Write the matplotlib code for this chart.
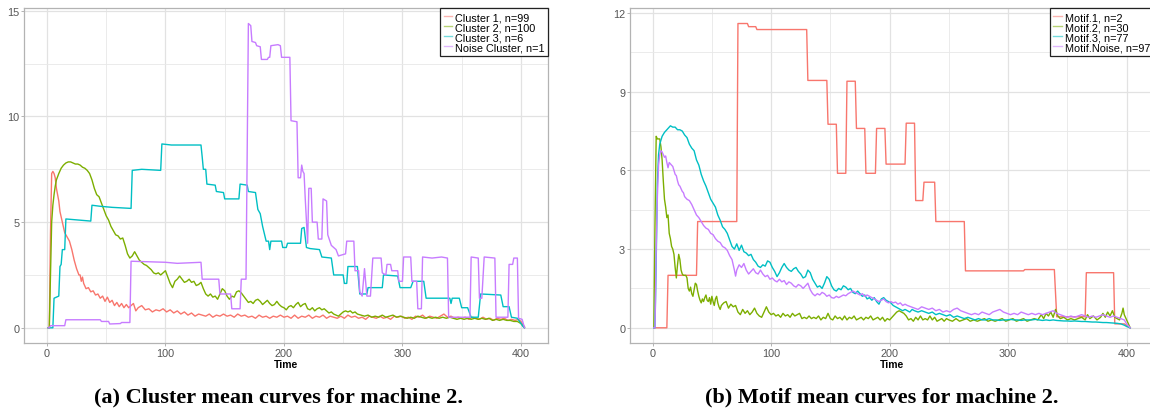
import matplotlib.pyplot as plt
import numpy as np

# colours (ggplot default hue palette)
colors = ['#F8766D', '#7CAE00', '#00BFC4', '#C77CFF']

# ---------- panel (a): cluster mean curves ----------
cluster_labels = ['Cluster 1, n=99', 'Cluster 2, n=100', 'Cluster 3, n=6', 'Noise Cluster, n=1']

cluster1 = [(1, 0), (2, 0), (3, 4.5), (4, 7.3), (5, 7.4), (6, 7.3), (7, 7.1), (8, 6.6), (10, 6.0), (11, 5.5),
            (13, 5.0), (15, 4.5), (17, 4.3), (19, 4.1), (21, 3.7), (23, 3.2), (25, 2.8), (27, 2.5), (28, 2.5),
            (29, 2.2), (30, 2.4), (31, 2.1), (33, 1.85), (35, 1.9), (37, 1.7), (39, 1.75), (41, 1.55), (43, 1.6),
            (45, 1.4), (47, 1.5), (49, 1.25), (51, 1.45), (53, 1.2), (55, 1.3), (57, 1.05), (59, 1.2), (61, 1.0),
            (63, 1.15), (65, 0.95), (67, 1.1), (69, 0.95), (71, 1.05), (73, 1.15), (75, 0.8), (77, 0.95),
            (80, 1.05), (83, 0.85), (86, 0.9), (89, 0.75), (92, 0.85), (95, 0.8), (98, 0.9), (101, 0.75),
            (104, 0.85), (107, 0.7), (110, 0.8), (113, 0.65), (116, 0.75), (119, 0.6), (122, 0.7), (125, 0.55),
            (128, 0.65), (131, 0.6), (134, 0.55), (137, 0.65), (140, 0.5), (143, 0.6), (146, 0.55), (149, 0.65),
            (152, 0.55), (155, 0.6), (158, 0.5), (161, 0.65), (164, 0.55), (167, 0.6), (170, 0.5), (173, 0.55),
            (176, 0.45), (179, 0.6), (182, 0.5), (185, 0.55), (188, 0.45), (191, 0.55), (194, 0.5), (197, 0.6),
            (200, 0.5), (203, 0.55), (206, 0.45), (209, 0.6), (212, 0.45), (215, 0.55), (218, 0.5), (221, 0.6),
            (224, 0.45), (227, 0.55), (230, 0.5), (233, 0.6), (236, 0.45), (239, 0.55), (242, 0.5), (245, 0.45),
            (248, 0.55), (251, 0.45), (254, 0.6), (257, 0.5), (260, 0.55), (263, 0.45), (266, 0.5), (269, 0.4),
            (272, 0.55), (275, 0.5), (278, 0.45), (281, 0.55), (284, 0.45), (287, 0.5), (290, 0.4), (293, 0.55),
            (296, 0.5), (299, 0.55), (302, 0.45), (305, 0.5), (308, 0.4), (311, 0.55), (314, 0.5), (317, 0.6),
            (320, 0.45), (323, 0.55), (326, 0.5), (329, 0.45), (332, 0.55), (335, 0.65), (338, 0.5), (341, 0.55),
            (344, 0.45), (347, 0.5), (350, 0.45), (353, 0.5), (356, 0.4), (359, 0.5), (362, 0.45), (365, 0.4),
            (368, 0.5), (371, 0.4), (374, 0.45), (377, 0.35), (380, 0.45), (383, 0.4), (386, 0.45), (389, 0.35),
            (392, 0.4), (395, 0.35), (398, 0.4), (400, 0.3), (403, 0.05)]

cluster2 = [(1, 0), (2, 0), (3, 2.5), (4, 5.0), (5, 5.8), (6, 6.3), (7, 6.7), (8, 7.0), (10, 7.3), (12, 7.55),
            (14, 7.7), (16, 7.8), (18, 7.85), (20, 7.85), (22, 7.8), (24, 7.75), (26, 7.75), (28, 7.7), (30, 7.6),
            (32, 7.55), (34, 7.45), (36, 7.3), (38, 7.0), (40, 6.6), (42, 6.3), (44, 6.2), (46, 5.9), (48, 5.6),
            (50, 5.3), (52, 5.1), (54, 4.8), (56, 4.6), (58, 4.4), (60, 4.35), (62, 4.2), (64, 4.25), (66, 3.9),
            (68, 3.5), (70, 3.3), (72, 3.4), (74, 3.6), (76, 3.4), (78, 3.2), (80, 3.1), (82, 3.0), (84, 2.95),
            (86, 2.85), (88, 2.75), (90, 2.6), (92, 2.55), (94, 2.6), (96, 2.5), (98, 2.6), (100, 2.7), (102, 2.4),
            (104, 2.1), (106, 1.9), (108, 2.2), (110, 2.3), (112, 2.45), (114, 2.3), (116, 2.15), (118, 2.2),
            (120, 2.3), (122, 2.15), (124, 2.2), (126, 2.0), (128, 2.05), (130, 2.15), (132, 1.85), (134, 1.6),
            (136, 1.5), (138, 1.6), (140, 1.45), (142, 1.5), (144, 1.35), (146, 1.6), (148, 1.85), (150, 1.75),
            (152, 1.5), (154, 1.35), (156, 1.5), (158, 1.45), (160, 1.7), (162, 1.75), (164, 1.65), (166, 1.5),
            (168, 1.35), (170, 1.2), (172, 1.25), (174, 1.15), (176, 1.3), (178, 1.35), (180, 1.25), (182, 1.1),
            (184, 1.2), (186, 1.3), (188, 1.15), (190, 1.05), (192, 1.1), (194, 1.25), (196, 1.1), (198, 1.0),
            (200, 0.95), (202, 0.85), (204, 1.0), (206, 1.05), (208, 0.95), (210, 1.1), (212, 1.2), (214, 1.0),
            (216, 1.1), (218, 1.15), (220, 0.9), (222, 0.85), (224, 0.95), (226, 0.8), (228, 0.9), (230, 0.95),
            (232, 0.85), (234, 0.9), (236, 0.8), (238, 0.7), (240, 0.75), (242, 0.65), (244, 0.6), (246, 0.55),
            (248, 0.65), (250, 0.75), (252, 0.8), (254, 0.75), (256, 0.8), (258, 0.7), (260, 0.75), (262, 0.65),
            (265, 0.6), (268, 0.55), (271, 0.6), (274, 0.5), (277, 0.55), (280, 0.5), (283, 0.6), (286, 0.5),
            (289, 0.55), (292, 0.6), (295, 0.5), (298, 0.55), (301, 0.5), (304, 0.45), (307, 0.5), (310, 0.45),
            (313, 0.55), (316, 0.5), (319, 0.45), (322, 0.5), (325, 0.45), (328, 0.5), (331, 0.45), (334, 0.5),
            (337, 0.45), (340, 0.5), (343, 0.45), (346, 0.4), (349, 0.45), (352, 0.4), (355, 0.45), (358, 0.4),
            (361, 0.45), (364, 0.4), (367, 0.45), (370, 0.4), (373, 0.45), (376, 0.35), (379, 0.4), (382, 0.35),
            (385, 0.4), (388, 0.35), (391, 0.35), (394, 0.3), (397, 0.3), (400, 0.2), (403, 0.0)]

cluster3 = [(1, 0), (5, 0), (6, 1.4), (10, 1.5), (11, 2.9), (12, 3.0), (13, 3.7), (15, 3.7), (16, 5.15),
            (37, 5.05), (38, 5.8), (45, 5.75), (55, 5.7), (71, 5.65), (72, 7.45), (80, 7.5), (96, 7.45),
            (97, 8.7), (105, 8.65), (130, 8.65), (131, 8.1), (132, 7.5), (134, 7.5), (135, 6.8), (142, 6.75),
            (143, 6.45), (149, 6.4), (150, 6.1), (162, 6.1), (163, 6.8), (169, 6.75), (170, 6.45), (176, 6.4),
            (178, 5.6), (180, 5.4), (182, 4.8), (185, 4.1), (187, 4.1), (188, 3.7), (189, 4.1), (198, 4.1),
            (199, 3.8), (202, 3.8), (203, 4.0), (214, 4.0), (215, 4.7), (217, 4.75), (219, 3.8), (222, 3.75),
            (230, 3.7), (232, 3.35), (240, 3.3), (242, 2.5), (250, 2.5), (251, 2.1), (253, 2.1), (254, 2.9),
            (262, 2.9), (264, 1.6), (270, 1.6), (271, 1.9), (283, 1.9), (284, 2.5), (296, 2.45), (298, 1.9),
            (307, 1.9), (309, 2.2), (318, 2.2), (320, 1.4), (340, 1.4), (341, 1.15), (342, 1.4), (348, 1.4),
            (350, 0.95), (355, 0.95), (358, 0.5), (364, 0.5), (366, 1.6), (383, 1.55), (385, 1.0), (390, 1.0),
            (392, 0.5), (397, 0.45), (402, 0.05), (403, 0)]

noise_cluster = [(1, 0), (2, 0), (3, 0.1), (15, 0.1), (16, 0.38), (45, 0.38), (46, 0.3), (52, 0.3), (53, 0.18),
                 (62, 0.2), (63, 0.25), (70, 0.25), (71, 3.15), (100, 3.1), (110, 3.05), (130, 3.1), (131, 2.3),
                 (145, 2.3), (146, 1.6), (155, 1.6), (156, 0.9), (163, 0.9), (164, 2.3), (168, 2.3), (170, 14.4),
                 (172, 14.3), (173, 13.55), (176, 13.5), (177, 13.35), (180, 13.3), (181, 12.7), (186, 12.7),
                 (187, 12.8), (188, 12.8), (189, 13.35), (195, 13.4), (197, 13.35), (198, 12.8), (205, 12.8),
                 (206, 9.8), (211, 9.75), (212, 7.1), (214, 7.1), (215, 7.7), (216, 7.4), (217, 7.3), (218, 6.1),
                 (220, 4.0), (221, 6.6), (223, 6.6), (224, 5.0), (228, 5.0), (229, 4.2), (232, 4.2), (233, 6.1),
                 (236, 6.0), (237, 4.4), (240, 3.9), (244, 3.7), (246, 3.4), (252, 3.5), (253, 4.1), (259, 4.1),
                 (260, 2.7), (263, 2.7), (264, 1.7), (266, 1.5), (268, 2.8), (270, 1.5), (273, 1.5), (275, 3.3),
                 (282, 3.3), (283, 2.6), (286, 2.5), (287, 3.0), (290, 3.0), (291, 2.7), (296, 2.7), (297, 2.2),
                 (300, 2.2), (301, 3.35), (307, 3.35), (308, 2.2), (312, 2.2), (313, 0.9), (316, 0.9), (317, 3.35),
                 (325, 3.3), (333, 3.35), (338, 3.3), (339, 0.5), (357, 0.5), (358, 3.35), (364, 3.3), (365, 1.4),
                 (367, 1.4), (369, 3.35), (378, 3.3), (379, 0.5), (389, 0.5), (390, 3.0), (393, 3.0), (394, 3.3),
                 (397, 3.3), (398, 0.45), (401, 0.4), (403, 0.0)]

# ---------- panel (b): motif mean curves ----------
motif_labels = ['Motif.1, n=2', 'Motif.2, n=30', 'Motif.3, n=77', 'Motif.Noise, n=97']

motif1 = [(1, 0), (12, 0), (13, 2.0), (37, 2.0), (38, 4.05), (71, 4.05), (72, 11.6), (80, 11.6), (81, 11.48),
          (87, 11.48), (88, 11.37), (130, 11.37), (131, 9.43), (147, 9.43), (148, 7.76), (155, 7.76),
          (156, 5.89), (163, 5.89), (164, 9.4), (171, 9.4), (172, 7.6), (179, 7.6), (180, 5.89), (188, 5.89),
          (189, 7.6), (196, 7.6), (197, 6.24), (213, 6.24), (214, 7.8), (221, 7.8), (222, 4.85), (228, 4.85),
          (229, 5.55), (238, 5.55), (239, 4.05), (263, 4.05), (264, 2.17), (313, 2.17), (314, 2.22),
          (339, 2.22), (341, 0.42), (365, 0.42), (366, 2.1), (389, 2.1), (390, 0.15), (398, 0.15), (403, 0)]

motif2 = [(1, 0), (2, 4.0), (3, 7.3), (4, 7.2), (6, 7.2), (7, 6.9), (8, 6.4), (9, 5.6), (10, 4.9), (11, 4.6),
          (12, 4.2), (13, 4.3), (14, 3.6), (15, 3.4), (16, 3.1), (17, 3.0), (18, 2.8), (19, 2.3), (20, 1.9),
          (21, 2.4), (22, 2.8), (23, 2.6), (24, 2.2), (25, 2.05), (26, 2.0), (28, 2.0), (29, 1.9), (30, 1.5),
          (31, 1.4), (32, 1.55), (33, 1.3), (34, 1.2), (35, 1.45), (36, 1.7), (37, 1.65), (38, 1.4), (39, 1.2),
          (40, 1.05), (41, 0.95), (42, 1.1), (43, 1.0), (44, 1.15), (45, 1.25), (46, 1.05), (47, 1.0),
          (48, 1.15), (49, 0.9), (50, 1.2), (51, 1.0), (52, 0.85), (53, 1.1), (54, 1.2), (55, 0.95), (56, 0.8),
          (57, 0.7), (58, 0.85), (60, 0.95), (62, 1.0), (64, 0.75), (66, 0.9), (68, 0.8), (70, 0.85), (72, 0.6),
          (74, 0.5), (76, 0.7), (78, 0.55), (80, 0.65), (82, 0.5), (84, 0.6), (86, 0.75), (88, 0.55), (90, 0.45),
          (92, 0.4), (94, 0.6), (96, 0.8), (98, 0.6), (100, 0.5), (102, 0.55), (104, 0.45), (106, 0.5),
          (108, 0.4), (110, 0.55), (112, 0.45), (114, 0.5), (116, 0.4), (118, 0.55), (120, 0.45), (122, 0.5),
          (124, 0.55), (126, 0.35), (128, 0.4), (130, 0.35), (132, 0.45), (134, 0.35), (136, 0.4), (138, 0.35),
          (140, 0.45), (142, 0.3), (144, 0.4), (146, 0.35), (148, 0.55), (150, 0.35), (152, 0.3), (154, 0.45),
          (156, 0.35), (158, 0.4), (160, 0.3), (162, 0.45), (164, 0.3), (166, 0.4), (168, 0.35), (170, 0.45),
          (172, 0.3), (174, 0.35), (176, 0.4), (178, 0.3), (180, 0.4), (182, 0.35), (184, 0.45), (186, 0.3),
          (188, 0.35), (190, 0.4), (192, 0.3), (194, 0.4), (196, 0.25), (198, 0.35), (200, 0.3), (202, 0.4),
          (204, 0.5), (206, 0.6), (208, 0.65), (210, 0.6), (212, 0.55), (214, 0.45), (216, 0.3), (218, 0.35),
          (220, 0.25), (222, 0.4), (224, 0.3), (226, 0.45), (228, 0.3), (230, 0.35), (232, 0.3), (234, 0.45),
          (236, 0.3), (238, 0.4), (240, 0.25), (242, 0.3), (244, 0.35), (246, 0.25), (248, 0.35), (250, 0.3),
          (253, 0.25), (256, 0.35), (259, 0.25), (262, 0.3), (265, 0.35), (268, 0.25), (271, 0.3), (274, 0.25),
          (277, 0.3), (280, 0.35), (283, 0.25), (286, 0.3), (289, 0.25), (292, 0.3), (295, 0.35), (298, 0.25),
          (301, 0.3), (304, 0.35), (307, 0.25), (310, 0.3), (313, 0.35), (316, 0.25), (319, 0.3), (322, 0.35),
          (325, 0.3), (328, 0.5), (330, 0.35), (332, 0.55), (334, 0.45), (336, 0.6), (338, 0.4), (340, 0.7),
          (342, 0.45), (344, 0.35), (347, 0.4), (350, 0.3), (353, 0.35), (356, 0.3), (359, 0.35), (362, 0.4),
          (365, 0.3), (367, 0.5), (369, 0.35), (372, 0.45), (375, 0.3), (378, 0.4), (380, 0.55), (382, 0.4),
          (384, 0.6), (386, 0.45), (388, 0.65), (390, 0.4), (392, 0.35), (394, 0.3), (396, 0.55), (397, 0.75),
          (398, 0.5), (400, 0.3), (403, 0.0)]

motif3 = [(1, 0), (2, 0), (3, 2.5), (4, 5.5), (5, 6.6), (6, 7.0), (8, 7.3), (10, 7.45), (12, 7.55), (14, 7.65),
          (15, 7.7), (17, 7.65), (19, 7.65), (21, 7.55), (23, 7.55), (25, 7.5), (27, 7.35), (29, 7.25), (31, 7.0),
          (33, 6.85), (35, 6.75), (37, 6.4), (39, 6.2), (41, 5.85), (43, 5.6), (45, 5.4), (47, 5.15), (49, 4.9),
          (51, 4.75), (53, 4.6), (55, 4.3), (57, 4.1), (59, 3.85), (61, 3.75), (63, 3.6), (65, 3.35), (67, 3.1),
          (69, 3.0), (71, 3.2), (73, 2.95), (75, 3.15), (77, 2.9), (79, 2.85), (81, 2.75), (83, 2.8), (85, 2.6),
          (87, 2.5), (89, 2.35), (91, 2.3), (93, 2.4), (95, 2.35), (97, 2.55), (99, 2.5), (101, 2.3), (103, 2.15),
          (105, 1.95), (107, 2.1), (109, 2.3), (111, 2.45), (113, 2.3), (115, 2.2), (117, 2.15), (119, 2.25),
          (121, 2.3), (123, 2.15), (125, 2.05), (127, 1.9), (129, 1.95), (131, 2.2), (133, 2.1), (135, 1.85),
          (137, 1.7), (139, 1.55), (141, 1.6), (143, 1.5), (145, 1.7), (147, 1.95), (149, 1.85), (151, 1.6),
          (153, 1.45), (155, 1.4), (157, 1.5), (159, 1.45), (161, 1.6), (163, 1.55), (165, 1.45), (167, 1.5),
          (169, 1.35), (171, 1.3), (173, 1.4), (175, 1.3), (177, 1.2), (179, 1.25), (181, 1.1), (183, 1.15),
          (185, 1.05), (187, 1.15), (189, 1.0), (191, 0.9), (193, 1.1), (195, 1.15), (197, 1.05), (199, 1.0),
          (201, 0.95), (203, 0.85), (205, 0.8), (207, 0.75), (209, 0.7), (211, 0.65), (213, 0.7), (215, 0.65),
          (217, 0.6), (219, 0.7), (221, 0.65), (224, 0.6), (227, 0.65), (230, 0.6), (233, 0.55), (236, 0.6),
          (239, 0.5), (242, 0.55), (245, 0.5), (248, 0.45), (251, 0.5), (254, 0.4), (257, 0.45), (260, 0.4),
          (263, 0.35), (266, 0.4), (269, 0.35), (272, 0.3), (275, 0.35), (278, 0.3), (281, 0.3), (284, 0.35),
          (287, 0.3), (290, 0.3), (293, 0.28), (296, 0.3), (299, 0.3), (302, 0.32), (305, 0.3), (308, 0.3),
          (311, 0.28), (314, 0.3), (317, 0.3), (320, 0.3), (323, 0.32), (326, 0.3), (329, 0.28), (332, 0.3),
          (335, 0.28), (338, 0.3), (341, 0.28), (344, 0.27), (347, 0.26), (350, 0.26), (353, 0.25), (356, 0.26),
          (359, 0.25), (362, 0.24), (365, 0.24), (368, 0.23), (371, 0.22), (374, 0.22), (377, 0.21), (380, 0.2),
          (383, 0.2), (386, 0.19), (389, 0.18), (392, 0.17), (395, 0.15), (398, 0.1), (400, 0.05), (403, 0)]

motif_noise = [(1, 0), (2, 0), (3, 3.0), (4, 5.0), (5, 6.2), (6, 6.6), (7, 6.75), (8, 6.7), (9, 6.6), (10, 6.5),
               (11, 6.55), (12, 6.3), (13, 6.1), (14, 6.3), (15, 6.25), (16, 6.2), (17, 6.15), (18, 6.0),
               (19, 5.85), (20, 5.8), (21, 5.6), (22, 5.45), (23, 5.4), (24, 5.3), (25, 5.2), (26, 5.15), (27, 5.0),
               (28, 4.95), (29, 4.9), (31, 4.85), (33, 4.7), (35, 4.5), (37, 4.3), (39, 4.2), (41, 4.05), (43, 3.9),
               (45, 3.8), (47, 3.75), (49, 3.6), (51, 3.55), (53, 3.4), (55, 3.3), (57, 3.25), (59, 3.1),
               (61, 3.05), (63, 2.95), (65, 2.75), (67, 2.6), (69, 2.2), (70, 1.97), (71, 2.2), (73, 2.4),
               (75, 2.3), (77, 2.45), (79, 2.2), (81, 2.05), (83, 2.15), (85, 2.25), (87, 2.1), (89, 2.05),
               (91, 2.2), (93, 2.05), (95, 1.95), (97, 2.0), (99, 1.85), (101, 1.9), (103, 1.8), (105, 1.75),
               (107, 1.85), (109, 1.75), (111, 1.8), (113, 1.65), (115, 1.75), (117, 1.7), (119, 1.6), (121, 1.55),
               (123, 1.65), (125, 1.6), (127, 1.5), (129, 1.6), (131, 1.7), (133, 1.45), (135, 1.3), (137, 1.22),
               (139, 1.3), (141, 1.25), (143, 1.35), (145, 1.3), (147, 1.2), (149, 1.25), (151, 1.15), (153, 1.13),
               (155, 1.2), (157, 1.15), (159, 1.2), (161, 1.25), (163, 1.22), (165, 1.3), (167, 1.35), (169, 1.4),
               (171, 1.35), (173, 1.3), (175, 1.25), (177, 1.3), (179, 1.2), (181, 1.25), (183, 1.2), (185, 1.15),
               (187, 1.1), (189, 1.05), (191, 1.0), (193, 1.05), (195, 1.1), (197, 1.0), (199, 0.95), (201, 1.0),
               (203, 0.95), (205, 0.98), (207, 0.9), (209, 0.95), (211, 0.85), (213, 0.9), (215, 0.85), (218, 0.8),
               (221, 0.75), (224, 0.7), (227, 0.8), (230, 0.75), (233, 0.7), (236, 0.75), (239, 0.65), (242, 0.7),
               (245, 0.6), (248, 0.65), (251, 0.6), (254, 0.7), (257, 0.75), (260, 0.65), (263, 0.6), (266, 0.55),
               (269, 0.5), (272, 0.55), (275, 0.5), (278, 0.6), (281, 0.55), (284, 0.5), (287, 0.6), (290, 0.65),
               (293, 0.7), (296, 0.6), (299, 0.55), (302, 0.5), (305, 0.55), (308, 0.5), (311, 0.6), (314, 0.55),
               (317, 0.5), (320, 0.55), (323, 0.5), (326, 0.55), (329, 0.5), (332, 0.55), (335, 0.6), (338, 0.65),
               (341, 0.55), (344, 0.5), (347, 0.45), (350, 0.4), (353, 0.45), (356, 0.4), (359, 0.45), (362, 0.5),
               (365, 0.45), (368, 0.4), (371, 0.45), (374, 0.4), (377, 0.45), (380, 0.5), (383, 0.45), (386, 0.4),
               (389, 0.45), (392, 0.4), (395, 0.35), (398, 0.3), (400, 0.15), (403, 0)]

W, H = 1150, 410
fig = plt.figure(figsize=(W / 100, H / 100), dpi=100)
plt.rcParams['font.family'] = ['Liberation Sans', 'DejaVu Sans']


def style_axes(ax, xlim, ylim, yticks):
    ax.set_xlim(*xlim)
    ax.set_ylim(*ylim)
    ax.set_xticks([0, 100, 200, 300, 400])
    ax.set_xticks([50, 150, 250, 350], minor=True)
    ax.set_yticks(yticks)
    ax.set_yticks([(a + b) / 2 for a, b in zip(yticks[:-1], yticks[1:])], minor=True)
    ax.grid(which='major', color='#E2E2E2', lw=0.9)
    ax.grid(which='minor', color='#E8E8E8', lw=0.6)
    ax.set_axisbelow(True)
    for s in ax.spines.values():
        s.set_color('#B3B3B3')
        s.set_linewidth(0.9)
    ax.tick_params(which='major', length=2, width=0.7, color='#B3B3B3',
                   labelsize=7.8, labelcolor='#555555', pad=1.5)
    ax.tick_params(which='minor', length=0)
    ax.set_xlabel('Time', fontsize=7.5, fontweight='bold', labelpad=1)


def draw(ax, series, labels):
    for data, lab, col in zip(series, labels, colors):
        t = [p[0] for p in data]
        v = [p[1] for p in data]
        ax.plot(t, v, color=col, lw=1.0, label=lab)
    leg = ax.legend(loc='upper right', borderaxespad=0, fontsize=7.8, fancybox=False,
                    handlelength=0.75, handletextpad=0.3, labelspacing=0.0, borderpad=0.35,
                    framealpha=1)
    leg.get_frame().set_edgecolor('#222222')
    leg.get_frame().set_linewidth(0.9)
    for h in leg.get_lines():
        h.set_alpha(0.55)


ax1 = fig.add_axes([24.3 / W, 1 - 344 / H, 524 / W, (344 - 9.3) / H])
draw(ax1, [cluster1, cluster2, cluster3, noise_cluster], cluster_labels)
style_axes(ax1, (-19.1, 423.1), (-0.72, 15.12), [0, 5, 10, 15])

ax2 = fig.add_axes([630 / W, 1 - 344 / H, 524 / W, (344 - 9.3) / H])
draw(ax2, [motif1, motif2, motif3, motif_noise], motif_labels)
style_axes(ax2, (-19.1, 423.1), (-0.58, 12.18), [0, 3, 6, 9, 12])

cap_font = dict(fontsize=16, fontweight='bold', family=['Liberation Serif', 'DejaVu Serif'])
fig.text(278 / W, 1 - 397 / H, '(a) Cluster mean curves for machine 2.', ha='center', va='center', **cap_font)
fig.text(882 / W, 1 - 397 / H, '(b) Motif mean curves for machine 2.', ha='center', va='center', **cap_font)

fig.savefig('out.png', dpi=100)
